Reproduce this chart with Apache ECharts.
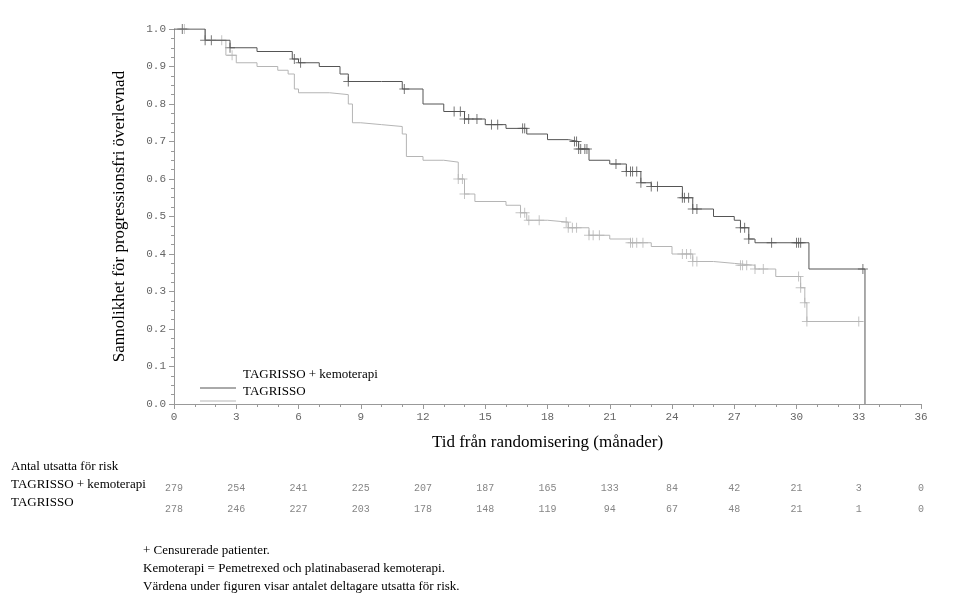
<body style="margin:0">
<script src="https://cdn.jsdelivr.net/npm/echarts@6/dist/echarts.min.js"></script>
<div id="main" style="width:976px;height:607px;"></div>
<script>
// Kaplan-Meier steps [month, survival]
var comboSteps = [[0,1.0],[1.5,0.97],[2.7,0.95],[4,0.94],[5.7,0.92],[6,0.91],[7,0.90],[8,0.88],[8.4,0.86],[10,0.86],[11,0.84],[12,0.80],[13,0.78],[14,0.76],[15,0.745],[16,0.735],[17,0.72],[18,0.705],[19,0.70],[19.5,0.68],[20,0.65],[21,0.64],[21.8,0.62],[22.5,0.59],[23,0.58],[24,0.58],[24.5,0.55],[25,0.52],[26,0.50],[27,0.49],[27.3,0.47],[27.7,0.44],[28,0.43],[30.6,0.36],[33.3,0.0]];
var monoSteps = [[0,1.0],[1.5,0.97],[2.5,0.93],[3,0.91],[4,0.90],[5,0.89],[5.5,0.88],[5.8,0.84],[6,0.83],[7.5,0.825],[8.4,0.80],[8.6,0.75],[9,0.745],[10,0.74],[11,0.72],[11.2,0.66],[12,0.65],[13,0.645],[13.7,0.60],[14,0.56],[14.5,0.54],[16,0.53],[16.7,0.51],[17,0.49],[18,0.485],[19,0.47],[20,0.45],[21,0.44],[22,0.43],[23,0.42],[24,0.40],[25,0.38],[26,0.375],[27,0.37],[28,0.36],[29,0.34],[30.2,0.31],[30.4,0.27],[30.5,0.22]];
var monoEnd = 33.2;
var comboCensor = [0.4,1.5,1.8,2.7,5.8,6.1,8.4,11.1,13.5,13.8,14,14.2,14.6,15.3,15.6,16.8,16.9,19.3,19.4,19.5,19.6,19.8,19.9,21.3,21.8,22,22.1,22.3,22.5,23,23.3,24.5,24.6,24.8,25,25.2,27.3,27.5,27.7,28.8,30,30.1,30.2,33.2];
var monoCensor = [0.5,2.3,2.8,13.7,13.9,14,16.7,16.9,17.1,17.6,18.9,19,19.2,19.4,20,20.2,20.5,22,22.1,22.3,22.6,24.5,24.7,24.9,25,25.2,27.3,27.4,27.6,28,28.4,30.1,30.2,30.4,30.5,33];
var riskTimes = [0,3,6,9,12,15,18,21,24,27,30,33,36];
var riskCombo = [279,254,241,225,207,187,165,133,84,42,21,3,0];
var riskMono = [278,246,227,203,178,148,119,94,67,48,21,1,0];

function survAt(steps, t) {
  var s = steps[0][1];
  for (var i = 0; i < steps.length; i++) { if (steps[i][0] <= t) s = steps[i][1]; }
  return s;
}
var comboLine = comboSteps.slice();
var monoLine = monoSteps.concat([[monoEnd, 0.22]]);
var plus = 'path://M0,5L10,5M5,0L5,10';
var dark = '#555', light = '#b5b5b5';
var mono = 'Liberation Mono';
var serif = 'Liberation Serif';

var chart = echarts.init(document.getElementById('main'));
var option = {
  animation: false,
  grid: [
    { left: 174, right: 55, top: 29, bottom: 203, containLabel: false, outerBoundsMode: 'none' },
    { left: 174, right: 55, top: 478, height: 42, containLabel: false, outerBoundsMode: 'none' }
  ],
  xAxis: [{
    type: 'value', min: 0, max: 36, interval: 3,
    axisLine: { lineStyle: { color: '#999' } },
    axisTick: { lineStyle: { color: '#999' }, length: 5 },
    minorTick: { show: true, splitNumber: 3, length: 3, lineStyle: { color: '#999' } },
    splitLine: { show: false },
    axisLabel: { fontFamily: mono, fontSize: 11, color: '#666' },
    name: 'Tid från randomisering (månader)', nameLocation: 'middle', nameGap: 30,
    nameTextStyle: { fontFamily: serif, fontSize: 17, color: '#000' }
  }, {
    gridIndex: 1, type: 'value', min: 0, max: 36, show: false
  }],
  yAxis: [{
    type: 'value', min: 0, max: 1, interval: 0.1,
    axisLine: { show: true, lineStyle: { color: '#999' } },
    axisTick: { show: true, lineStyle: { color: '#999' }, length: 5 },
    minorTick: { show: true, splitNumber: 4, length: 3, lineStyle: { color: '#999' } },
    splitLine: { show: false },
    axisLabel: { fontFamily: mono, fontSize: 11, color: '#666', formatter: function (v) { return v.toFixed(1); } },
    name: 'Sannolikhet för progressionsfri överlevnad', nameLocation: 'middle', nameGap: 46,
    nameTextStyle: { fontFamily: serif, fontSize: 17, color: '#000' }
  }, {
    gridIndex: 1, type: 'category', data: ['TAGRISSO + kemoterapi', 'TAGRISSO'], inverse: true, show: false
  }],
  series: [
    { type: 'line', step: 'end', data: monoLine, symbol: 'none', lineStyle: { color: light, width: 1 } },
    { type: 'line', step: 'end', data: comboLine, symbol: 'none', lineStyle: { color: dark, width: 1 } },
    { type: 'scatter', data: monoCensor.map(function (t) { return [t, survAt(monoLine, t)]; }),
      symbol: plus, symbolSize: 10, itemStyle: { color: 'none', borderColor: light, borderWidth: 1 } },
    { type: 'scatter', data: comboCensor.map(function (t) { return [t, survAt(comboLine, t)]; }),
      symbol: plus, symbolSize: 10, itemStyle: { color: 'none', borderColor: dark, borderWidth: 1 } },
    { type: 'scatter', xAxisIndex: 1, yAxisIndex: 1, symbolSize: 0,
      data: riskTimes.map(function (t, i) { return [t, 0, riskCombo[i]]; }),
      label: { show: true, position: 'inside', formatter: function (p) { return p.value[2]; }, fontFamily: mono, fontSize: 10, color: '#666' } },
    { type: 'scatter', xAxisIndex: 1, yAxisIndex: 1, symbolSize: 0,
      data: riskTimes.map(function (t, i) { return [t, 1, riskMono[i]]; }),
      label: { show: true, position: 'inside', formatter: function (p) { return p.value[2]; }, fontFamily: mono, fontSize: 10, color: '#666' } }
  ],
  graphic: [
    { type: 'text', left: 243, top: 368, style: { text: 'TAGRISSO + kemoterapi', font: '13px "Liberation Serif"', fill: '#000' } },
    { type: 'text', left: 243, top: 385, style: { text: 'TAGRISSO', font: '13px "Liberation Serif"', fill: '#000' } },
    { type: 'line', shape: { x1: 200, y1: 388, x2: 236, y2: 388 }, style: { stroke: dark, lineWidth: 1 } },
    { type: 'line', shape: { x1: 200, y1: 401, x2: 236, y2: 401 }, style: { stroke: light, lineWidth: 1 } },
    { type: 'text', left: 11, top: 460, style: { text: 'Antal utsatta för risk', font: '13px "Liberation Serif"', fill: '#000' } },
    { type: 'text', left: 11, top: 478, style: { text: 'TAGRISSO + kemoterapi', font: '13px "Liberation Serif"', fill: '#000' } },
    { type: 'text', left: 11, top: 496, style: { text: 'TAGRISSO', font: '13px "Liberation Serif"', fill: '#000' } },
    { type: 'text', left: 143, top: 542, style: { text: '+ Censurerade patienter.\nKemoterapi = Pemetrexed och platinabaserad kemoterapi.\nVärdena under figuren visar antalet deltagare utsatta för risk.', font: '13px "Liberation Serif"', lineHeight: 18, fill: '#000' } }
  ]
};
chart.setOption(option);
</script>
</body>
